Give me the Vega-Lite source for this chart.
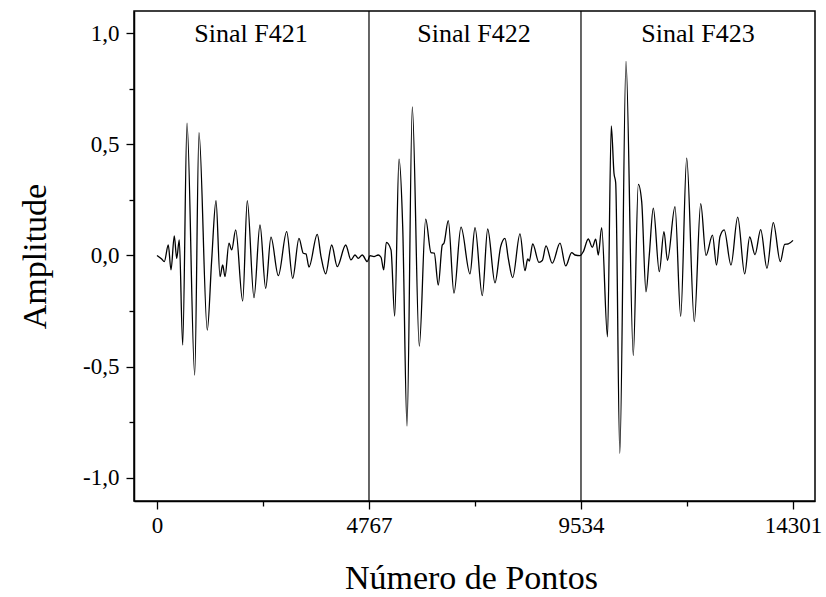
{
  "$schema": "https://vega.github.io/schema/vega-lite/v6.json",
  "autosize": {"type": "none"},
  "width": 681,
  "height": 490,
  "padding": {"left": 134, "top": 11, "right": 11, "bottom": 96},
  "background": "white",
  "config": {
    "view": {"stroke": "black", "strokeWidth": 1.5},
    "font": "Liberation Serif"
  },
  "datasets": {
    "signal": [
      {"x": 0, "y": 0.0}, {"x": 106, "y": -0.016}, {"x": 164, "y": -0.028}, {"x": 254, "y": 0.047},
      {"x": 315, "y": -0.065}, {"x": 389, "y": 0.088}, {"x": 443, "y": -0.013}, {"x": 501, "y": 0.07},
      {"x": 578, "y": -0.403}, {"x": 675, "y": 0.595}, {"x": 848, "y": -0.538}, {"x": 944, "y": 0.553},
      {"x": 1131, "y": -0.336}, {"x": 1230, "y": -0.02}, {"x": 1327, "y": 0.247}, {"x": 1417, "y": -0.095},
      {"x": 1477, "y": -0.043}, {"x": 1529, "y": -0.095}, {"x": 1619, "y": 0.055}, {"x": 1680, "y": 0.025},
      {"x": 1770, "y": 0.115}, {"x": 1927, "y": -0.205}, {"x": 2030, "y": 0.247}, {"x": 2181, "y": -0.19},
      {"x": 2316, "y": 0.137}, {"x": 2444, "y": -0.148}, {"x": 2563, "y": 0.082}, {"x": 2728, "y": -0.091},
      {"x": 2916, "y": 0.107}, {"x": 3051, "y": -0.103}, {"x": 3193, "y": 0.077}, {"x": 3290, "y": 0.01},
      {"x": 3350, "y": 0.007}, {"x": 3418, "y": -0.052}, {"x": 3604, "y": 0.095}, {"x": 3688, "y": -0.005},
      {"x": 3793, "y": -0.083}, {"x": 3928, "y": 0.047}, {"x": 4054, "y": -0.05}, {"x": 4243, "y": 0.047},
      {"x": 4362, "y": -0.02}, {"x": 4452, "y": 0.002}, {"x": 4526, "y": -0.013}, {"x": 4616, "y": 0.002},
      {"x": 4729, "y": -0.028}, {"x": 4790, "y": -0.001}, {"x": 4879, "y": -0.005}, {"x": 4976, "y": 0.002},
      {"x": 5037, "y": -0.008}, {"x": 5098, "y": -0.065}, {"x": 5156, "y": 0.059}, {"x": 5262, "y": 0.025},
      {"x": 5345, "y": -0.273}, {"x": 5442, "y": 0.433}, {"x": 5525, "y": 0.13}, {"x": 5622, "y": -0.768},
      {"x": 5741, "y": 0.668}, {"x": 5898, "y": -0.408}, {"x": 6042, "y": 0.163}, {"x": 6161, "y": 0.013},
      {"x": 6235, "y": 0.01}, {"x": 6325, "y": -0.133}, {"x": 6415, "y": 0.047}, {"x": 6453, "y": 0.055},
      {"x": 6550, "y": 0.157}, {"x": 6678, "y": -0.17}, {"x": 6836, "y": 0.127}, {"x": 7038, "y": -0.083},
      {"x": 7151, "y": 0.125}, {"x": 7315, "y": -0.181}, {"x": 7436, "y": 0.119}, {"x": 7600, "y": -0.123},
      {"x": 7728, "y": 0.04}, {"x": 7825, "y": 0.077}, {"x": 7899, "y": -0.013}, {"x": 7998, "y": -0.1},
      {"x": 8162, "y": 0.097}, {"x": 8275, "y": -0.068}, {"x": 8336, "y": -0.016}, {"x": 8372, "y": -0.025},
      {"x": 8448, "y": 0.052}, {"x": 8589, "y": -0.031}, {"x": 8664, "y": -0.023}, {"x": 8747, "y": 0.043},
      {"x": 8889, "y": -0.035}, {"x": 9062, "y": 0.055}, {"x": 9190, "y": -0.047}, {"x": 9325, "y": 0.013},
      {"x": 9399, "y": 0.002}, {"x": 9511, "y": -0.001}, {"x": 9586, "y": 0.017}, {"x": 9698, "y": 0.074},
      {"x": 9788, "y": 0.037}, {"x": 9865, "y": 0.073}, {"x": 9923, "y": 0.002}, {"x": 9999, "y": 0.125},
      {"x": 10130, "y": -0.366}, {"x": 10215, "y": 0.583}, {"x": 10276, "y": 0.37}, {"x": 10314, "y": 0.327},
      {"x": 10407, "y": -0.891}, {"x": 10546, "y": 0.873}, {"x": 10710, "y": -0.45}, {"x": 10823, "y": 0.32},
      {"x": 10899, "y": 0.242}, {"x": 10996, "y": -0.164}, {"x": 11070, "y": 0.002}, {"x": 11160, "y": 0.213},
      {"x": 11295, "y": -0.073}, {"x": 11400, "y": 0.107}, {"x": 11479, "y": -0.022}, {"x": 11648, "y": 0.22},
      {"x": 11776, "y": -0.274}, {"x": 11911, "y": 0.438}, {"x": 12082, "y": -0.298}, {"x": 12226, "y": 0.233},
      {"x": 12345, "y": 0.0}, {"x": 12491, "y": 0.091}, {"x": 12581, "y": -0.043}, {"x": 12660, "y": 0.085},
      {"x": 12754, "y": 0.115}, {"x": 12907, "y": -0.043}, {"x": 13058, "y": 0.172}, {"x": 13215, "y": -0.083},
      {"x": 13327, "y": 0.083}, {"x": 13447, "y": 0.004}, {"x": 13575, "y": 0.116}, {"x": 13716, "y": -0.058},
      {"x": 13858, "y": 0.148}, {"x": 14016, "y": -0.028}, {"x": 14114, "y": 0.05}, {"x": 14196, "y": 0.052},
      {"x": 14301, "y": 0.068}
    ],
    "dividers": [{"x": 4767}, {"x": 9534}],
    "labels": [
      {"x": 2114, "y": 0.995, "text": "Sinal F421"},
      {"x": 7128, "y": 0.995, "text": "Sinal F422"},
      {"x": 12165, "y": 0.995, "text": "Sinal F423"}
    ]
  },
  "layer": [
    {
      "data": {"name": "signal"},
      "mark": {"type": "line", "color": "black", "strokeWidth": 1.3, "interpolate": "monotone"},
      "encoding": {
        "x": {
          "field": "x", "type": "quantitative",
          "scale": {"domain": [-517, 14796], "nice": false, "zero": false},
          "axis": {
            "title": "Número de Pontos",
            "titleFont": "Liberation Serif", "titleFontSize": 34, "titleFontWeight": "normal", "titleColor": "black",
            "titleX": 337, "titleY": 77, "titleBaseline": "middle", "titleAlign": "center",
            "values": [0, 2383.5, 4767, 7150.5, 9534, 11917.5, 14301],
            "labelExpr": "datum.value % 4767 === 0 ? format(datum.value, 'd') : ''",
            "labelFont": "Liberation Serif", "labelFontSize": 23, "labelColor": "black", "labelPadding": 5,
            "labelFlush": false, "labelOverlap": false,
            "tickSize": {"condition": {"test": "datum.value % 4767 === 0", "value": 8}, "value": 5},
            "tickColor": "black", "tickWidth": 1.3,
            "domainColor": "black", "domainWidth": 1.5,
            "grid": false
          }
        },
        "y": {
          "field": "y", "type": "quantitative",
          "scale": {"domain": [-1.105, 1.1], "nice": false, "zero": false},
          "axis": {
            "title": "Amplitude",
            "titleFont": "Liberation Serif", "titleFontSize": 34, "titleFontWeight": "normal", "titleColor": "black",
            "titleX": -99, "titleY": 245, "titleAngle": 270, "titleBaseline": "middle", "titleAlign": "center",
            "values": [-1, -0.75, -0.5, -0.25, 0, 0.25, 0.5, 0.75, 1],
            "labelExpr": "abs(datum.value * 2 - round(datum.value * 2)) < 0.001 ? (datum.value < 0 ? '-' : '') + replace(format(abs(datum.value), '.1f'), '.', ',') : ''",
            "labelFont": "Liberation Serif", "labelFontSize": 23, "labelColor": "black", "labelPadding": 7,
            "labelFlush": false, "labelOverlap": false,
            "tickSize": {"condition": {"test": "abs(datum.value * 2 - round(datum.value * 2)) < 0.001", "value": 8}, "value": 5},
            "tickColor": "black", "tickWidth": 1.3,
            "domainColor": "black", "domainWidth": 1.5,
            "grid": false
          }
        }
      }
    },
    {
      "data": {"name": "dividers"},
      "mark": {"type": "rule", "color": "black", "strokeWidth": 1.2},
      "encoding": {"x": {"field": "x", "type": "quantitative"}}
    },
    {
      "data": {"name": "labels"},
      "mark": {"type": "text", "font": "Liberation Serif", "fontSize": 26, "color": "black", "baseline": "middle", "align": "center"},
      "encoding": {
        "x": {"field": "x", "type": "quantitative"},
        "y": {"field": "y", "type": "quantitative"},
        "text": {"field": "text"}
      }
    }
  ]
}
